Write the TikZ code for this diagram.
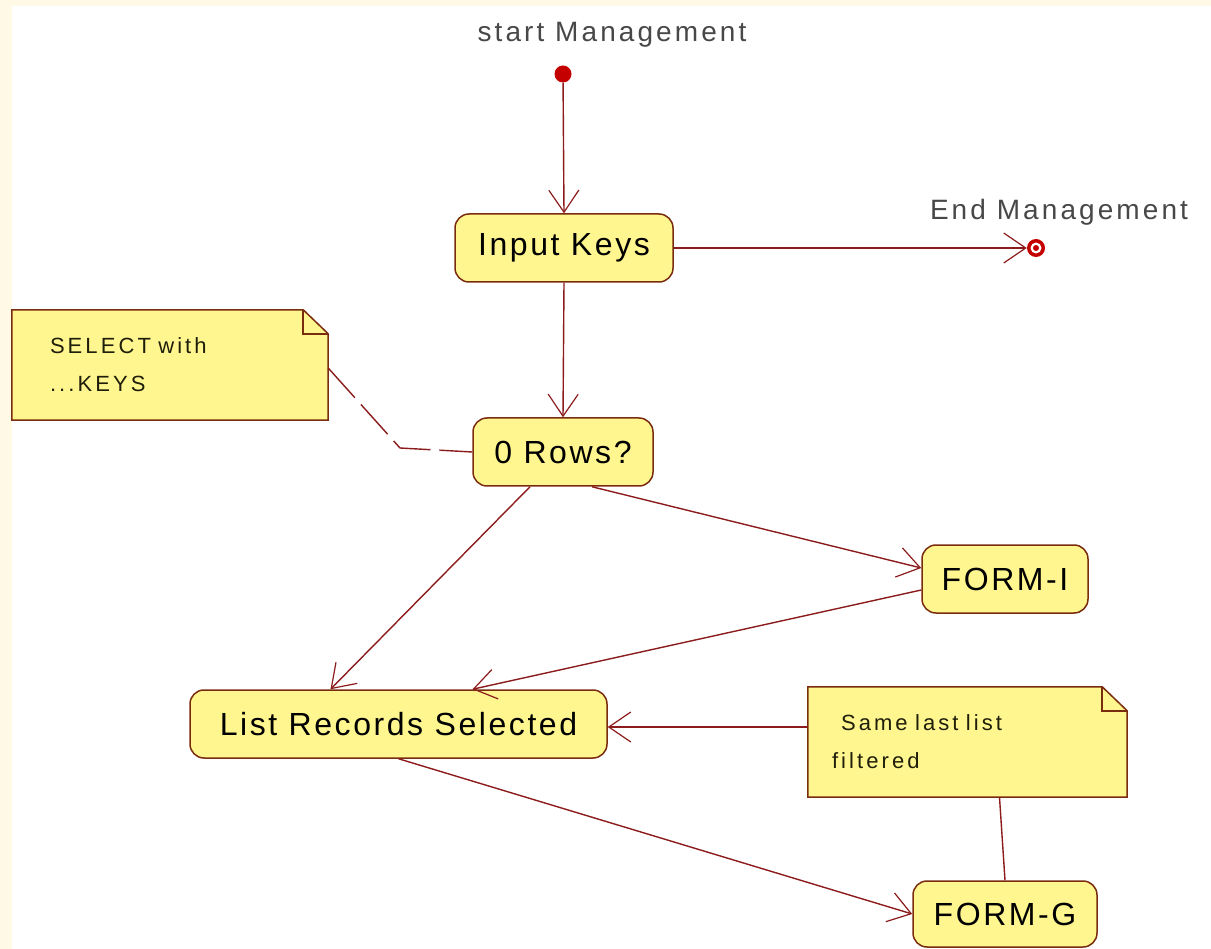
\documentclass[tikz,border=0pt]{standalone}
\usepackage{fontspec}
\setmainfont{Liberation Sans}
\newfontfamily\boxface[LetterSpace=8]{Liberation Sans}
\newfontfamily\captionface[LetterSpace=11]{Liberation Sans}
\newfontfamily\noteface[LetterSpace=14]{Liberation Sans}
\usetikzlibrary{arrows.meta}

\definecolor{cream}{RGB}{255,249,230}
\definecolor{actfill}{RGB}{255,246,143}
\definecolor{actedge}{RGB}{122,44,14}
\definecolor{wire}{RGB}{140,28,28}
\definecolor{dotred}{RGB}{196,0,0}
\definecolor{labelgray}{RGB}{72,72,72}
\definecolor{notetextcol}{RGB}{30,30,10}

\tikzset{
  activity/.style={draw=actedge, fill=actfill, line width=1.5pt, rounded corners=14pt,
    minimum height=68pt, inner sep=0pt, text=black,
    font=\boxface\fontsize{32}{36}\selectfont},
  noteframe/.style={minimum width=#1, minimum height=110pt, inner sep=0pt},
  notetext/.style={align=left, text=notetextcol, inner ysep=0pt,
    font=\noteface\fontsize{22}{38}\selectfont},
  noteedge/.style={draw=actedge, fill=actfill, line width=1.5pt},
  caption/.style={text=labelgray, font=\captionface\fontsize{28}{32}\selectfont},
  flow/.style={draw=wire, line width=1.4pt,
    -{Straight Barb[length=22pt,width=30pt,line width=1.2pt]}},
  anchorline/.style={draw=wire, line width=1.4pt},
  dashedanchor/.style={draw=wire, line width=1.4pt, dash pattern=on 40pt off 9pt},
}

\begin{document}
\begin{tikzpicture}[x=1pt,y=-1pt]
  % page background with the cream edge strips
  \fill[cream] (0,0) rectangle (1211,949);
  \fill[white] (12,6) rectangle (1211,949);
  \useasboundingbox (0,0) rectangle (1211,949);

  % start and end states
  \node[caption] (startlbl) at (612,35) {start Management};
  \node[circle, fill=dotred, minimum size=17pt, inner sep=0pt] (start) at (563,74) {};
  \node[caption] (endlbl) at (1059,212) {End Management};
  \node[circle, fill=dotred, minimum size=18pt, inner sep=0pt] (end) at (1036,248) {};
  \fill[white] (end.center) circle (5.5);
  \fill[dotred] (end.center) circle (3);

  % activities
  \node[activity, minimum width=218pt] (keys) at (564,248) {Input Keys};
  \node[activity, minimum width=180pt] (rows) at (563,452) {0 Rows?};
  \node[activity, minimum width=166pt] (formi) at (1005,579) {FORM-I};
  \node[activity, minimum width=417pt] (list) at (398.5,724) {List Records Selected};
  \node[activity, minimum width=184pt, minimum height=66pt] (formg) at (1005,914) {FORM-G};

  % notes with a folded corner
  \node[noteframe=316pt] (selnote) at (170,365) {};
  \node[noteframe=319pt] (samenote) at (967.5,742) {};
  \foreach \n in {selnote,samenote}{
    \path[noteedge] (\n.north west) -- ([xshift=-25pt]\n.north east)
      -- ([yshift=-24pt]\n.north east) -- (\n.south east) -- (\n.south west) -- cycle;
    \draw[actedge, line width=1.5pt] ([xshift=-25pt]\n.north east)
      |- ([yshift=-24pt]\n.north east);
  }
  \node[notetext, text width=240pt, inner xsep=38pt] (selnotetext) at (selnote.center)
    {SELECT with\\...KEYS};
  \node[notetext, text width=271pt, inner xsep=24pt] (samenotetext) at (samenote.center)
    {\hspace*{9pt}Same last list\\filtered};

  % control flow
  \draw[flow] (start) -- (keys.north);
  \draw[flow] (keys.east) -- (end.west);
  \draw[flow] (keys.south) -- (rows.north);
  \draw[flow] ([xshift=-33pt]rows.south) -- ([xshift=-68pt]list.north);
  \draw[flow] ([xshift=29pt]rows.south) -- ([yshift=11pt]formi.west);
  \draw[flow] ([yshift=-11pt]formi.west) -- ([xshift=74pt]list.north);
  \draw[flow] (list.south) -- (formg.west);

  % note attachments
  \coordinate (bend) at (400,448);
  \draw[dashedanchor] ([yshift=-3pt]selnote.east) -- (bend) -- (rows.west);
  \draw[flow] ([yshift=15pt]samenote.west) -- ([yshift=15pt]samenote.west -| list.east);
  \draw[anchorline] ([xshift=32pt]samenote.south) -- (formg.north);
\end{tikzpicture}
\end{document}
